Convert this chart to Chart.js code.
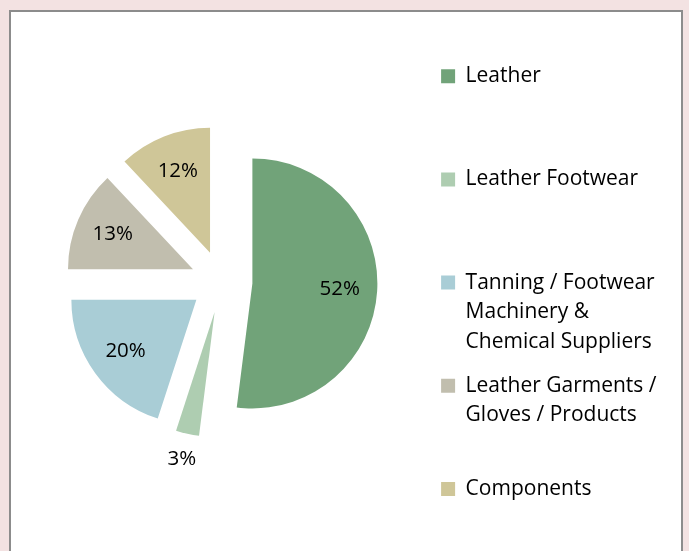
<!DOCTYPE html>
<html>
<head>
<meta charset="utf-8">
<script src="https://cdn.jsdelivr.net/npm/chart.js@4.4.0/dist/chart.umd.min.js"></script>
<style>
  html, body { margin: 0; padding: 0; background: #f3e2e2; }
  #card { position: absolute; left: 9px; top: 10px; width: 670px; height: 560px;
          background: #fff; border: 2px solid #8c8c8c; }
  #wrap { position: absolute; left: 0; top: 0; width: 670px; height: 539px; }
</style>
</head>
<body>
<div id="card"><div id="wrap"><canvas id="pie-chart"></canvas></div></div>
<script>
const categories = [
    'Leather',
    'Leather Footwear',
    'Tanning / Footwear Machinery & Chemical Suppliers',
    'Leather Garments / Gloves / Products',
    'Components'
];
// legend text as it wraps in the picture (blank lines keep the rows evenly spaced)
const legendLines = [
    ['Leather', '', ''],
    ['Leather Footwear', '', ''],
    ['Tanning / Footwear', 'Machinery &', 'Chemical Suppliers'],
    ['Leather Garments /', 'Gloves / Products', ''],
    ['Components']
];
const shares = [52, 3, 20, 13, 12];
const colors = ['#71a379', '#aecdb1', '#a9cdd6', '#c1beae', '#cfc698'];

const explode = 31;
const FONT = '"Open Sans"';

// Chart.js makes exploded slices bigger; keep every slice at the same radius
const keepRadius = {
    id: 'keepRadius',
    beforeDatasetsDraw(chart) {
        chart.getDatasetMeta(0).data.forEach(arc => { arc.circumference = Math.PI / 2; });
    }
};

// percent labels inside the slices, small ones outside
const pctLabels = {
    id: 'pctLabels',
    afterDatasetsDraw(chart) {
        const ctx = chart.ctx;
        ctx.save();
        ctx.font = '20.5px ' + FONT;
        ctx.fillStyle = '#000';
        ctx.textAlign = 'center';
        ctx.textBaseline = 'middle';
        chart.getDatasetMeta(0).data.forEach((arc, i) => {
            const mid = (arc.startAngle + arc.endAngle) / 2;
            const r = shares[i] < 5 ? arc.outerRadius + 26 : arc.outerRadius * 0.7;
            ctx.fillText(shares[i] + '%',
                arc.x + Math.cos(mid) * (explode + r),
                arc.y + Math.sin(mid) * (explode + r));
        });
        ctx.restore();
    }
};

const config = {
    type: 'pie',
    data: {
        labels: categories,
        datasets: [{
            data: shares,
            backgroundColor: colors,
            borderWidth: 0,
            offset: explode * 4
        }]
    },
    options: {
        responsive: true,
        maintainAspectRatio: false,
        animation: false,
        radius: 125,
        layout: { padding: { left: 5.5, right: 14.5, top: 0, bottom: 0 } },
        plugins: {
            tooltip: { enabled: false },
            legend: {
                position: 'right',
                align: 'start',
                title: { display: true, text: '', padding: { top: 29, bottom: 0 }, font: { size: 10, lineHeight: 1 } },
                labels: {
                    boxWidth: 14,
                    boxHeight: 14,
                    padding: 14.7,
                    color: '#000',
                    font: { family: FONT, size: 21, lineHeight: 29.5 / 21 },
                    generateLabels: (chart) => legendLines.map((lines, i) => ({
                        text: lines,
                        fillStyle: colors[i],
                        strokeStyle: colors[i],
                        fontColor: '#000',
                        lineWidth: 0,
                        index: i
                    }))
                }
            }
        }
    },
    plugins: [keepRadius, pctLabels]
};

const myChart = new Chart(document.getElementById('pie-chart'), config);
</script>
</body>
</html>
